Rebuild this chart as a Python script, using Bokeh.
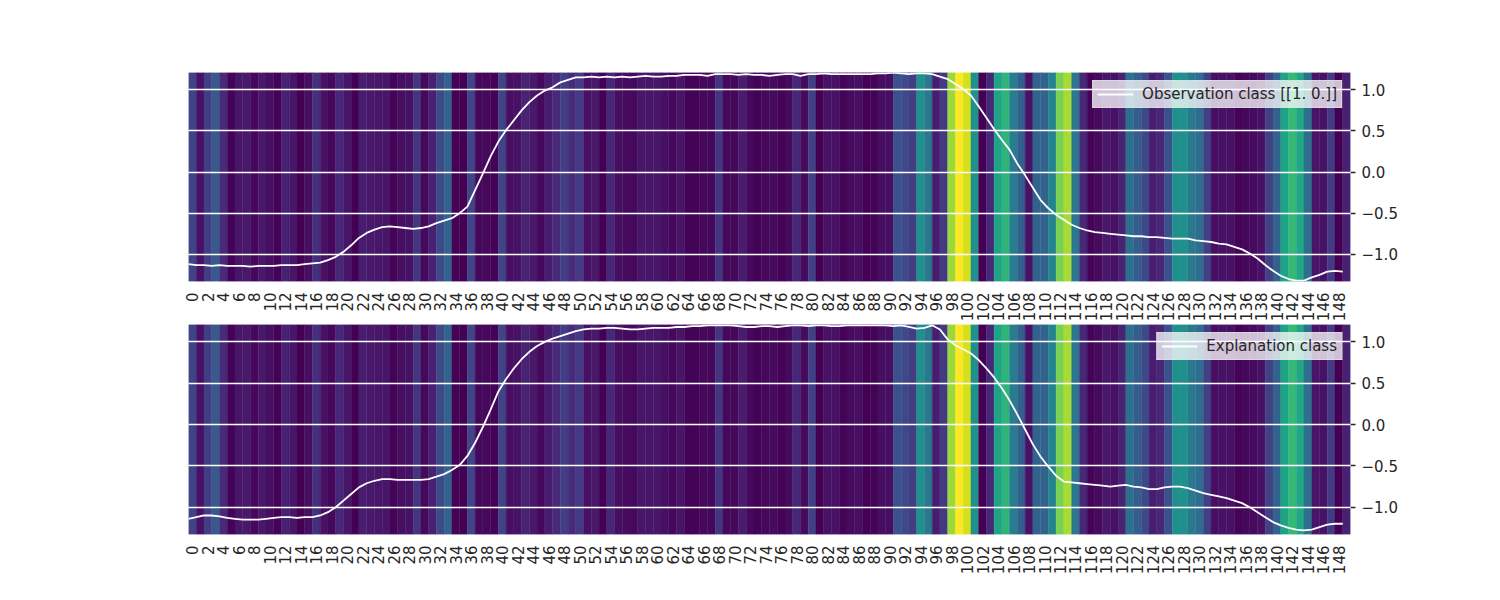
import numpy as np
from bokeh.plotting import figure
from bokeh.layouts import column
from bokeh.models import FixedTicker, Range1d, ColumnDataSource, LinearColorMapper
from bokeh.palettes import Viridis256
from bokeh.transform import transform
from bokeh.embed import file_html
from bokeh.resources import INLINE

# ---------------- data ----------------
attribution = [
    0.20, 0.05, 0.18, 0.28, 0.12, 0.01, 0.06, 0.07, 0.02, 0.07,
    0.04, 0.01, 0.09, 0.06, 0.00, 0.04, 0.14, 0.05, 0.02, 0.11,
    0.06, 0.00, 0.08, 0.07, 0.06, 0.06, 0.01, 0.04, 0.05, 0.15,
    0.02, 0.09, 0.22, 0.32, 0.01, 0.00, 0.21, 0.02, 0.02, 0.01,
    0.20, 0.04, 0.05, 0.10, 0.07, 0.02, 0.08, 0.12, 0.18, 0.12,
    0.17, 0.05, 0.07, 0.00, 0.11, 0.04, 0.03, 0.02, 0.06, 0.06,
    0.06, 0.04, 0.02, 0.06, 0.01, 0.01, 0.02, 0.02, 0.15, 0.02,
    0.02, 0.08, 0.02, 0.01, 0.02, 0.03, 0.01, 0.03, 0.11, 0.03,
    0.19, 0.00, 0.05, 0.05, 0.01, 0.03, 0.04, 0.00, 0.01, 0.04,
    0.04, 0.25, 0.22, 0.18, 0.50, 0.40, 0.08, 0.17, 0.85, 1.00,
    0.93, 0.50, 0.00, 0.11, 0.58, 0.65, 0.42, 0.30, 0.05, 0.32,
    0.32, 0.45, 0.80, 0.87, 0.40, 0.11, 0.01, 0.03, 0.07, 0.05,
    0.10, 0.37, 0.30, 0.22, 0.08, 0.11, 0.25, 0.50, 0.50, 0.40,
    0.36, 0.19, 0.04, 0.05, 0.05, 0.01, 0.02, 0.03, 0.05, 0.19,
    0.32, 0.58, 0.67, 0.60, 0.37, 0.06, 0.05, 0.17, 0.00, 0.09,
]

observation = [
    -1.12, -1.13, -1.13, -1.14, -1.13, -1.14, -1.14, -1.14, -1.15, -1.14,
    -1.14, -1.14, -1.13, -1.13, -1.13, -1.12, -1.11, -1.10, -1.07, -1.03,
    -0.97, -0.89, -0.80, -0.74, -0.70, -0.67, -0.66, -0.67, -0.68, -0.69,
    -0.68, -0.66, -0.62, -0.59, -0.56, -0.50, -0.42, -0.22, -0.02, 0.19,
    0.37, 0.51, 0.63, 0.75, 0.85, 0.93, 0.99, 1.03, 1.09, 1.12,
    1.15, 1.15, 1.16, 1.15, 1.16, 1.15, 1.16, 1.15, 1.16, 1.17,
    1.16, 1.16, 1.17, 1.17, 1.18, 1.18, 1.18, 1.17, 1.19, 1.19,
    1.19, 1.18, 1.19, 1.18, 1.18, 1.17, 1.18, 1.19, 1.19, 1.17,
    1.19, 1.19, 1.20, 1.19, 1.19, 1.19, 1.19, 1.19, 1.19, 1.20,
    1.20, 1.21, 1.20, 1.19, 1.20, 1.20, 1.19, 1.16, 1.13, 1.07,
    1.01, 0.93, 0.80, 0.66, 0.52, 0.39, 0.27, 0.10, -0.04, -0.19,
    -0.34, -0.44, -0.52, -0.58, -0.64, -0.68, -0.71, -0.73, -0.74, -0.75,
    -0.76, -0.77, -0.78, -0.78, -0.79, -0.79, -0.80, -0.81, -0.81, -0.81,
    -0.83, -0.84, -0.85, -0.87, -0.88, -0.91, -0.94, -0.99, -1.05, -1.13,
    -1.20, -1.26, -1.30, -1.32, -1.32, -1.28, -1.25, -1.21, -1.20, -1.21,
]

explanation = [
    -1.14, -1.12, -1.10, -1.10, -1.11, -1.13, -1.14, -1.15, -1.15, -1.15,
    -1.14, -1.13, -1.12, -1.12, -1.13, -1.12, -1.12, -1.10, -1.06, -1.00,
    -0.92, -0.84, -0.76, -0.71, -0.68, -0.66, -0.66, -0.67, -0.67, -0.67,
    -0.67, -0.66, -0.63, -0.60, -0.55, -0.49, -0.38, -0.22, -0.03, 0.18,
    0.40, 0.55, 0.68, 0.79, 0.88, 0.95, 1.00, 1.04, 1.07, 1.10,
    1.13, 1.15, 1.16, 1.16, 1.17, 1.17, 1.16, 1.15, 1.15, 1.16,
    1.17, 1.17, 1.17, 1.18, 1.18, 1.19, 1.19, 1.20, 1.20, 1.20,
    1.20, 1.19, 1.18, 1.18, 1.19, 1.19, 1.18, 1.19, 1.20, 1.20,
    1.19, 1.20, 1.20, 1.19, 1.19, 1.20, 1.20, 1.20, 1.20, 1.20,
    1.20, 1.19, 1.20, 1.18, 1.16, 1.17, 1.20, 1.15, 1.03, 0.96,
    0.91, 0.86, 0.78, 0.68, 0.57, 0.44, 0.29, 0.12, -0.06, -0.24,
    -0.39, -0.51, -0.62, -0.69, -0.70, -0.71, -0.72, -0.73, -0.74, -0.75,
    -0.74, -0.73, -0.75, -0.76, -0.78, -0.78, -0.76, -0.75, -0.75, -0.77,
    -0.80, -0.83, -0.85, -0.87, -0.89, -0.92, -0.95, -1.00, -1.06, -1.12,
    -1.18, -1.22, -1.25, -1.27, -1.28, -1.27, -1.24, -1.21, -1.20, -1.20,
]

x_tick_labels = [str(i) for i in range(0, 150, 2)]
y_ticks = [-1.0, -0.5, 0.0, 0.5, 1.0]
y_tick_labels = ["\u22121.0", "\u22120.5", "0.0", "0.5", "1.0"]
legend_labels = ["Observation class [[1. 0.]]", "Explanation class"]

Y_MIN, Y_MAX = -1.33, 1.21
N = len(attribution)
TXT = "#262626"
FONT = "DejaVu Sans"

mapper = LinearColorMapper(palette=Viridis256, low=min(attribution), high=max(attribution))


def make_panel(series, label, height, bottom_border, top_border):
    p = figure(width=1500, height=height, output_backend="svg", toolbar_location=None,
               x_range=Range1d(0, N), y_range=Range1d(Y_MIN, Y_MAX),
               y_axis_location="right",
               min_border_left=188, min_border_right=150,
               min_border_top=top_border, min_border_bottom=bottom_border)
    p.outline_line_color = None
    p.background_fill_color = "white"
    p.border_fill_color = "white"

    idx = np.arange(N)
    src = ColumnDataSource(dict(left=idx, right=idx + 1,
                                bottom=np.full(N, Y_MIN), top=np.full(N, Y_MAX),
                                v=attribution))
    p.quad(left="left", right="right", bottom="bottom", top="top", source=src,
           fill_color=transform("v", mapper), line_color=transform("v", mapper),
           line_width=0.4)

    p.line(x=list(range(len(series))), y=series, line_color="white", line_width=1.8,
           legend_label=label)

    # grid
    p.xgrid.visible = False
    p.ygrid.ticker = FixedTicker(ticks=y_ticks)
    p.ygrid.grid_line_color = "white"
    p.ygrid.grid_line_width = 1.3
    p.ygrid.level = "annotation"

    # x axis
    xa = p.xaxis[0]
    xa.ticker = FixedTicker(ticks=[i + 0.5 for i in range(0, N, 2)])
    xa.major_label_overrides = {i + 0.5: lab for i, lab in zip(range(0, N, 2), x_tick_labels)}
    xa.major_label_orientation = np.pi / 2
    xa.major_tick_line_color = None
    xa.minor_tick_line_color = None
    xa.axis_line_color = None
    xa.major_label_standoff = 5
    xa.major_label_text_font = FONT
    xa.major_label_text_font_size = "15px"
    xa.major_label_text_color = TXT

    # y axis (right)
    ya = p.yaxis[0]
    ya.ticker = FixedTicker(ticks=y_ticks)
    ya.major_label_overrides = {t: lab for t, lab in zip(y_ticks, y_tick_labels)}
    ya.axis_line_color = None
    ya.minor_tick_line_color = None
    ya.major_tick_in = 0
    ya.major_tick_out = 5
    ya.major_tick_line_color = TXT
    ya.major_tick_line_width = 1.3
    ya.major_label_standoff = 6
    ya.major_label_text_font = FONT
    ya.major_label_text_font_size = "15px"
    ya.major_label_text_color = TXT

    lg = p.legend[0]
    lg.location = "top_right"
    lg.margin = 8
    lg.padding = 4
    lg.spacing = 0
    lg.label_height = 14
    lg.glyph_height = 14
    lg.glyph_width = 36
    lg.label_standoff = 9
    lg.label_text_font = FONT
    lg.label_text_font_size = "15px"
    lg.label_text_color = TXT
    lg.background_fill_color = "white"
    lg.background_fill_alpha = 0.75
    lg.border_line_color = "#dddddd"
    lg.border_line_alpha = 0.8
    return p


p1 = make_panel(observation, legend_labels[0], 324, 42, 72)
p2 = make_panel(explanation, legend_labels[1], 276, 66, 0)

layout = column(p1, p2, spacing=0)
open("out.html", "w").write(file_html(layout, INLINE))
